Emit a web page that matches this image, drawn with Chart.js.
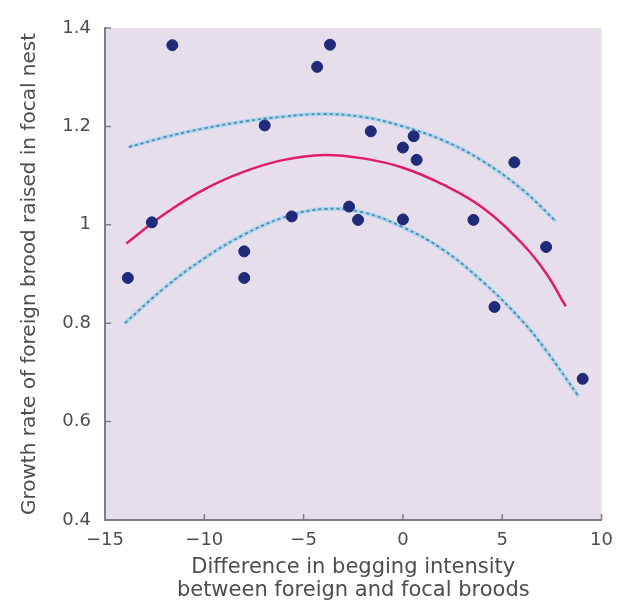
<!DOCTYPE html>
<html>
<head>
<meta charset="utf-8">
<script src="https://cdn.jsdelivr.net/npm/chart.js@4.4.1/dist/chart.umd.min.js"></script>
<style>
  html, body { margin: 0; padding: 0; background: #fff; }
  #wrap { width: 623px; height: 607px; }
</style>
</head>
<body>
<div id="wrap"><canvas id="growthChart"></canvas></div>
<script>
// --------------------------------------------------------------------
// Data
// --------------------------------------------------------------------
const nestX = [-13.85, -12.64, -11.61, -7.99, -7.99, -6.96, -5.6, -4.32, -3.67, -2.71, -2.26,
               -1.62, 0.0, 0.0, 0.54, 0.69, 3.55, 4.61, 5.61, 7.21, 9.05];
const nestY = [0.892, 1.005, 1.365, 0.946, 0.892, 1.202, 1.017, 1.321, 1.366, 1.037, 1.010,
               1.190, 1.157, 1.011, 1.180, 1.132, 1.010, 0.833, 1.127, 0.955, 0.687];

// fitted curve (pink)
const fitX = [-13.93, -12, -10, -8, -6, -4, -2, 0, 2, 4, 6, 7.2, 8.2];
const fitY = [0.962, 1.022, 1.072, 1.108, 1.132, 1.142, 1.135, 1.116, 1.082, 1.035, 0.962, 0.902, 0.834];

// confidence band (dashed blue)
const upperX = [-13.8, -12, -10, -8, -6, -4, -2, 0, 2, 4, 6, 7.7];
const upperY = [1.158, 1.178, 1.196, 1.21, 1.22, 1.225, 1.219, 1.2, 1.172, 1.13, 1.072, 1.007];
const lowerX = [-14, -12, -10, -8, -6, -4, -2, 0, 2, 4, 6, 7.2, 8.85];
const lowerY = [0.80, 0.872, 0.932, 0.98, 1.015, 1.032, 1.025, 0.995, 0.95, 0.885, 0.805, 0.745, 0.651];

const xTicks = [-15, -10, -5, 0, 5, 10];
const yTicks = [0.4, 0.6, 0.8, 1, 1.2, 1.4];

const toPts = (xs, ys) => xs.map((x, i) => ({ x: x, y: ys[i] }));

const textColor = '#4d4d4d';
const axisColor = '#7d7d85';
const fontFamily = "'DejaVu Sans', sans-serif";

// --------------------------------------------------------------------
// Plot background + inward tick marks
// --------------------------------------------------------------------
const framePlugin = {
    id: 'frame',
    beforeDraw(chart) {
        const a = chart.chartArea;
        const ctx = chart.ctx;
        ctx.save();
        ctx.fillStyle = '#e7deec';
        ctx.fillRect(a.left, a.top, a.right - a.left, a.bottom - a.top);
        ctx.restore();
    },
    afterDraw(chart) {
        const a = chart.chartArea;
        const ctx = chart.ctx;
        ctx.save();
        ctx.strokeStyle = axisColor;
        ctx.lineWidth = 1.5;
        ctx.beginPath();
        xTicks.forEach(v => {
            const px = chart.scales.x.getPixelForValue(v);
            ctx.moveTo(px, a.bottom);
            ctx.lineTo(px, a.bottom - 6);
        });
        yTicks.forEach(v => {
            const py = chart.scales.y.getPixelForValue(v);
            ctx.moveTo(a.left, py);
            ctx.lineTo(a.left + 6, py);
        });
        ctx.stroke();
        ctx.restore();
    }
};

const bandHalo = { borderColor: 'rgba(160, 214, 242, 0.9)', borderWidth: 4 };
const bandDash = { borderColor: '#5f8398', borderWidth: 1.8, borderDash: [3, 3] };
const curve = { showLine: true, pointRadius: 0, tension: 0.4 };

new Chart(document.getElementById('growthChart'), {
    type: 'scatter',
    data: {
        datasets: [
            {
                label: 'Nests',
                data: toPts(nestX, nestY),
                backgroundColor: '#1f2a78',
                borderColor: '#1f2a78',
                pointRadius: 5.5,
                order: 0
            },
            { label: 'Fit', data: toPts(fitX, fitY), ...curve, borderColor: '#e01a6c', borderWidth: 2.5, order: 1 },
            { label: 'Upper dash', data: toPts(upperX, upperY), ...curve, ...bandDash, order: 2 },
            { label: 'Lower dash', data: toPts(lowerX, lowerY), ...curve, ...bandDash, order: 2 },
            { label: 'Upper', data: toPts(upperX, upperY), ...curve, ...bandHalo, order: 3 },
            { label: 'Lower', data: toPts(lowerX, lowerY), ...curve, ...bandHalo, order: 3 }
        ]
    },
    options: {
        responsive: true,
        maintainAspectRatio: false,
        animation: false,
        layout: { padding: { left: 0, right: 20, top: 28, bottom: 5 } },
        plugins: {
            legend: { display: false },
            tooltip: { enabled: false }
        },
        scales: {
            x: {
                type: 'linear',
                min: -15,
                max: 10,
                afterFit: s => { s.height = 82; },
                afterBuildTicks: s => { s.ticks = xTicks.map(v => ({ value: v })); },
                grid: { display: false, drawTicks: false },
                border: { display: true, color: axisColor, width: 2 },
                ticks: {
                    padding: 10,
                    color: textColor,
                    font: { family: fontFamily, size: 18 },
                    callback: v => (v < 0 ? '\u2212' + Math.abs(v) : String(v))
                },
                title: {
                    display: true,
                    text: ['Difference in begging intensity', 'between foreign and focal broods'],
                    color: textColor,
                    font: { family: fontFamily, size: 21, lineHeight: 1.1 },
                    padding: { top: 0, bottom: 0 }
                }
            },
            y: {
                type: 'linear',
                min: 0.4,
                max: 1.4,
                afterFit: s => { s.width = 105; },
                afterBuildTicks: s => { s.ticks = yTicks.map(v => ({ value: v })); },
                grid: { display: false, drawTicks: false },
                border: { display: true, color: axisColor, width: 2 },
                ticks: {
                    padding: 14,
                    color: textColor,
                    font: { family: fontFamily, size: 18 },
                    callback: v => String(Math.round(v * 10) / 10)
                },
                title: {
                    display: true,
                    text: 'Growth rate of foreign brood raised in focal nest',
                    color: textColor,
                    font: { family: fontFamily, size: 20 },
                    padding: { top: 18, bottom: 0 }
                }
            }
        }
    },
    plugins: [framePlugin]
});
</script>
</body>
</html>
